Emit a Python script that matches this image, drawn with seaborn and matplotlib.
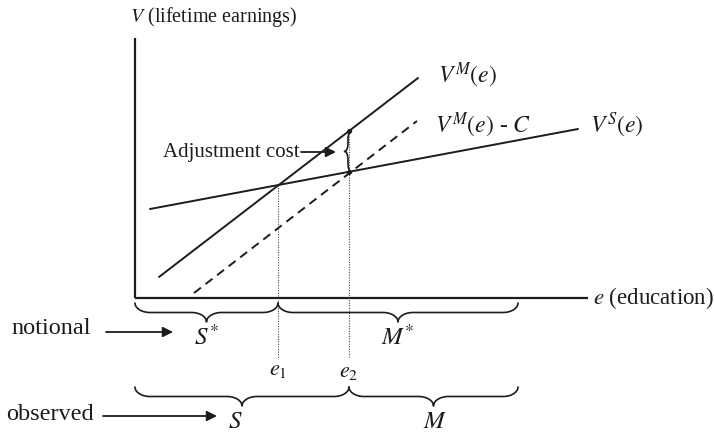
import numpy as np
import pandas as pd
import matplotlib
matplotlib.use('Agg')
import matplotlib.pyplot as plt
import seaborn as sns

# curve end points (e = education, V = lifetime earnings)
vm_e = [2.4, 28.3]
vm_v = [2.1, 22.0]
vmc_e = [5.9, 28.2]
vmc_v = [0.5, 17.7]
vs_e = [1.5, 44.3]
vs_v = [8.9, 16.9]

e1 = 14.3
e2 = 21.4
e_end = 38.3          # right end of the M braces
axis_e = 45.3
axis_v = 26.0

curve_names = ['VM', 'VMC', 'VS']
curve_labels = [r'$V^{M}(e)$', r'$V^{M}(e)$ - $C$', r'$V^{S}(e)$']

sns.set_style('white')
plt.rcParams['font.family'] = ['Liberation Serif', 'DejaVu Serif']
plt.rcParams['mathtext.fontset'] = 'stix'

ink = '#1c1c1c'

fig = plt.figure(figsize=(7.14, 4.32), dpi=100)
ax = fig.add_axes([0, 0, 1, 1])
ax.set_xlim(-13.5, 57.9)
ax.set_ylim(-13.4, 29.8)
ax.axis('off')

# axes of the diagram
ax.plot([0, 0], [0, axis_v], color=ink, lw=1.6, solid_capstyle='butt')
ax.plot([0, axis_e], [0, 0], color=ink, lw=1.6, solid_capstyle='butt')
ax.text(-0.5, 28.1, r'$V$ (lifetime earnings)', fontsize=14.5, va='center', ha='left', color=ink)
ax.text(45.8, 0, r'$e$ (education)', fontsize=16.5, va='center', ha='left', color=ink)

# the three earnings lines
curves = pd.DataFrame({
    'e': vm_e + vmc_e + vs_e,
    'V': vm_v + vmc_v + vs_v,
    'curve': [curve_names[0]] * 2 + [curve_names[1]] * 2 + [curve_names[2]] * 2,
})
sns.lineplot(data=curves, x='e', y='V', hue='curve', style='curve',
             palette={n: ink for n in curve_names},
             dashes={'VM': '', 'VMC': (4.5, 3), 'VS': ''},
             legend=False, lw=1.4, ax=ax)
ax.set_xlabel('')
ax.set_ylabel('')

ax.text(30.3, 22.3, curve_labels[0], fontsize=17, va='center', ha='left', color=ink)
ax.text(30.0, 17.3, curve_labels[1], fontsize=17, va='center', ha='left', color=ink)
ax.text(45.5, 17.3, curve_labels[2], fontsize=17, va='center', ha='left', color=ink)

# heights at the two thresholds
v_e1 = np.interp(e1, vs_e, vs_v)
vm_e2 = np.interp(e2, vm_e, vm_v)
vs_e2 = np.interp(e2, vs_e, vs_v)

dot_bottom = -6.0
ax.plot([e1, e1], [v_e1, dot_bottom], color='#444444', lw=0.8, ls=(0, (1, 1.3)))
ax.plot([e2, e2], [vm_e2, dot_bottom], color='#444444', lw=0.8, ls=(0, (1, 1.3)))
ax.plot([e2, e2], [vm_e2, vs_e2], 'o', ms=2.5, color=ink)
ax.text(e1, -7.2, r'$e_1$', fontsize=16, ha='center', va='center', color=ink)
ax.text(e2, -7.4, r'$e_2$', fontsize=16, ha='center', va='center', color=ink)


def brace(u0, u1, h, r_along):
    # curly brace along u, depth grows from 0 at the ends to h at the tip
    r = h / 2
    um = (u0 + u1) / 2
    t = np.linspace(0, np.pi / 2, 25)
    a1 = u0 + r_along - r_along * np.cos(t)
    d1 = r * np.sin(t)
    a2 = um - r_along + r_along * np.sin(t)
    d2 = 2 * r - r * np.cos(t)
    left_a = np.concatenate([a1, a2])
    left_d = np.concatenate([d1, d2])
    right_a = (u0 + u1) - left_a[::-1]
    right_d = left_d[::-1]
    return np.concatenate([left_a, right_a]), np.concatenate([left_d, right_d])


def hbrace(x0, x1, ytop, h=1.9, r_along=1.5):
    a, d = brace(x0, x1, h, r_along)
    ax.plot(a, ytop - d, color=ink, lw=1.2)


# notional split
hbrace(0, e1, -0.5)
hbrace(e1, e_end, -0.5)
ax.text(e1 / 2, -3.9, r'$S^{*}$', fontsize=18, ha='center', va='center', color=ink)
ax.text((e1 + e_end) / 2, -3.9, r'$M^{*}$', fontsize=18, ha='center', va='center', color=ink)

# observed split
hbrace(0, e2, -8.9)
hbrace(e2, e_end, -8.9)
ax.text(10.0, -12.4, r'$S$', fontsize=18, ha='center', va='center', color=ink)
ax.text(30.0, -12.4, r'$M$', fontsize=18, ha='center', va='center', color=ink)

arrow = dict(arrowstyle='-|>', lw=1.3, color=ink, mutation_scale=15, shrinkA=0, shrinkB=0)
ax.text(-8.4, -3.1, 'notional', fontsize=17.5, ha='center', va='center', color=ink)
ax.annotate('', xy=(3.8, -3.4), xytext=(-2.9, -3.4), arrowprops=arrow)
ax.text(-8.5, -11.6, 'observed', fontsize=17.5, ha='center', va='center', color=ink)
ax.annotate('', xy=(8.2, -11.8), xytext=(-3.2, -11.8), arrowprops=arrow)

# adjustment cost brace between V^M and V^S at e2
a, d = brace(vs_e2, vm_e2, 0.7, 0.8)
ax.plot(e2 - 0.45 - d + 0.7, a, color=ink, lw=1.2)
ax.text(16.5, 14.6, 'Adjustment cost', fontsize=15, ha='right', va='center', color=ink)
ax.annotate('', xy=(20.1, 14.6), xytext=(16.6, 14.6), arrowprops=arrow)

plt.savefig('out.png', dpi=100)
